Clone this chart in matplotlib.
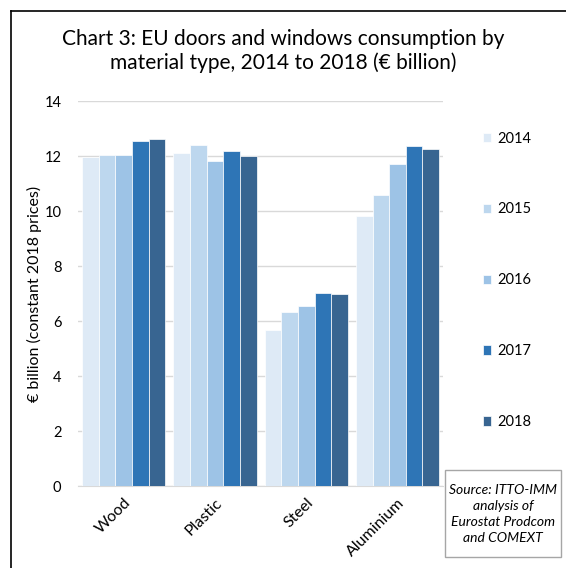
import matplotlib
matplotlib.use("Agg")
import matplotlib.pyplot as plt
from matplotlib.patches import Rectangle
import numpy as np

plt.rcParams['font.family'] = ['Lato', 'DejaVu Sans']

materials = ["Wood", "Plastic", "Steel", "Aluminium"]
years = ["2014", "2015", "2016", "2017", "2018"]
values = {
    "2014": [11.98, 12.12, 5.68, 9.81],
    "2015": [12.04, 12.42, 6.33, 10.59],
    "2016": [12.03, 11.84, 6.54, 11.70],
    "2017": [12.56, 12.19, 7.01, 12.38],
    "2018": [12.61, 11.99, 6.98, 12.25],
}
colors = ["#DEEAF6", "#BDD7EE", "#9DC3E6", "#2E75B6", "#386591"]

fig = plt.figure(figsize=(5.66, 5.68), dpi=100)
ax = fig.add_axes([0.138, 0.144, 0.645, 0.678])

x = np.arange(len(materials))
w = 0.182
for i, (yr, c) in enumerate(zip(years, colors)):
    ax.bar(x + (i - 2) * w, values[yr], width=w, color=c,
           edgecolor="white", linewidth=0.5, label=yr, zorder=3)

ax.set_xlim(-0.5, len(materials) - 0.5)
ax.set_ylim(0, 14)
ax.set_yticks(range(0, 15, 2))
ax.grid(axis="y", color="#D9D9D9", linewidth=1.0, zorder=0)
for s in ["top", "right", "left"]:
    ax.spines[s].set_visible(False)
ax.spines["bottom"].set_color("#D9D9D9")
ax.tick_params(axis="both", length=0, colors="#000000")
ax.tick_params(axis="y", pad=12, labelsize=10.5)
ax.set_xticks(x)
ax.set_xticklabels(materials, rotation=45, ha="right", rotation_mode="anchor")
ax.tick_params(axis="x", pad=7, labelsize=11.5)
ax.set_ylabel("€ billion (constant 2018 prices)", fontsize=11.5, labelpad=2)

fig.suptitle("Chart 3: EU doors and windows consumption by\nmaterial type, 2014 to 2018 (€ billion)",
             y=0.949, fontsize=15, linespacing=1.2)

leg = ax.legend(loc="upper left", bbox_to_anchor=(1.072, 0.955), frameon=False,
                fontsize=10.5, handlelength=0.6, handleheight=0.6,
                handletextpad=0.4, labelspacing=3.9)

# outer frame (left and top edges)
fig.add_artist(plt.Line2D([11 / 566, 11 / 566], [0, 1 - 11 / 568],
                          color="black", linewidth=1.2, transform=fig.transFigure))
fig.add_artist(plt.Line2D([11 / 566, 1], [1 - 11 / 568, 1 - 11 / 568],
                          color="black", linewidth=1.2, transform=fig.transFigure))

# source note box
bx0, bx1, by0, by1 = 445, 561, 470, 557
fig.add_artist(Rectangle((bx0 / 566, 1 - by1 / 568), (bx1 - bx0) / 566, (by1 - by0) / 568,
                         transform=fig.transFigure, fill=False,
                         edgecolor="#A6A6A6", linewidth=1.0))
fig.text((bx0 + bx1) / 2 / 566, 1 - (by0 + by1) / 2 / 568,
         "Source: ITTO-IMM\nanalysis of\nEurostat Prodcom\nand COMEXT",
         ha="center", va="center", fontsize=10, style="italic", linespacing=1.4)

fig.savefig("out.png", dpi=100, facecolor="white")
